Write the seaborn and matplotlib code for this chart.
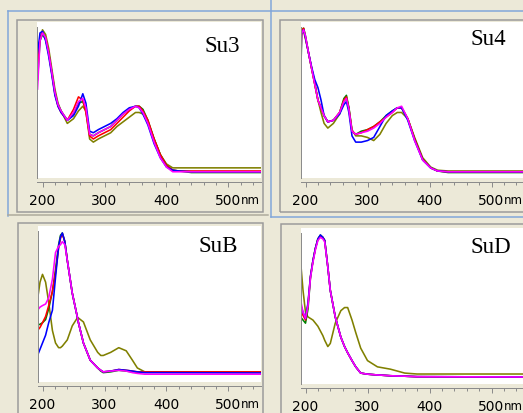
import numpy as np
import pandas as pd
import seaborn as sns
import matplotlib.pyplot as plt
import matplotlib.transforms as mtransforms
from matplotlib.patches import Rectangle
from matplotlib.lines import Line2D
from matplotlib.ticker import MultipleLocator

W, H = 523, 413
BG = "#ECE9D8"

# ---- data (relative absorbance) ----
wl_su3 = [192, 196, 200, 205, 210, 215, 220, 225, 230, 240, 250, 258, 265, 270, 276, 282,
          290, 300, 310, 320, 330, 340, 350, 356, 362, 370, 380, 390, 400, 410, 420, 440, 560]
su3_blue = [0.80, 0.93, 0.94, 0.88, 0.78, 0.66, 0.53, 0.46, 0.42, 0.37, 0.40, 0.46, 0.54, 0.48, 0.30, 0.29,
            0.31, 0.33, 0.35, 0.38, 0.42, 0.45, 0.46, 0.45, 0.41, 0.34, 0.22, 0.13, 0.07, 0.05, 0.045, 0.04, 0.04]
su3_red = [0.70, 0.90, 0.93, 0.90, 0.80, 0.67, 0.54, 0.46, 0.42, 0.37, 0.44, 0.52, 0.50, 0.42, 0.27, 0.25,
           0.27, 0.29, 0.31, 0.35, 0.39, 0.43, 0.46, 0.46, 0.43, 0.37, 0.25, 0.15, 0.08, 0.05, 0.045, 0.045, 0.045]
su3_green = [0.63, 0.88, 0.92, 0.89, 0.80, 0.68, 0.55, 0.47, 0.43, 0.37, 0.41, 0.48, 0.49, 0.44, 0.28, 0.27,
             0.29, 0.31, 0.33, 0.37, 0.41, 0.44, 0.46, 0.46, 0.44, 0.37, 0.25, 0.15, 0.08, 0.05, 0.045, 0.035, 0.035]
su3_magenta = [0.57, 0.88, 0.93, 0.90, 0.80, 0.68, 0.55, 0.47, 0.43, 0.37, 0.42, 0.49, 0.51, 0.45, 0.28, 0.27,
               0.29, 0.31, 0.33, 0.37, 0.41, 0.44, 0.46, 0.45, 0.42, 0.35, 0.23, 0.13, 0.07, 0.04, 0.04, 0.04, 0.04]
su3_olive = [0.72, 0.89, 0.95, 0.92, 0.83, 0.70, 0.57, 0.48, 0.43, 0.35, 0.38, 0.43, 0.46, 0.43, 0.25, 0.23,
             0.25, 0.27, 0.29, 0.33, 0.36, 0.39, 0.42, 0.42, 0.41, 0.36, 0.25, 0.15, 0.09, 0.065, 0.065, 0.065, 0.065]

wl_su4 = [192, 194, 197, 200, 205, 210, 215, 220, 225, 230, 236, 245, 255, 262, 266, 270, 275,
          281, 290, 300, 310, 320, 330, 340, 348, 355, 365, 376, 389, 402, 413, 430, 560]
su4_blue = [0.90, 0.93, 0.95, 0.90, 0.80, 0.71, 0.63, 0.58, 0.50, 0.40, 0.36, 0.37, 0.41, 0.47, 0.49, 0.42, 0.27,
            0.23, 0.23, 0.24, 0.26, 0.33, 0.40, 0.43, 0.45, 0.45, 0.37, 0.24, 0.115, 0.064, 0.045, 0.04, 0.04]
su4_red = [0.85, 0.94, 0.96, 0.90, 0.80, 0.70, 0.60, 0.50, 0.45, 0.40, 0.36, 0.37, 0.42, 0.50, 0.52, 0.44, 0.30,
           0.28, 0.29, 0.31, 0.33, 0.36, 0.39, 0.42, 0.45, 0.45, 0.38, 0.25, 0.12, 0.065, 0.045, 0.04, 0.04]
su4_green = [0.61, 0.92, 0.96, 0.91, 0.80, 0.70, 0.60, 0.50, 0.45, 0.40, 0.36, 0.37, 0.42, 0.51, 0.53, 0.45, 0.30,
             0.28, 0.30, 0.31, 0.33, 0.36, 0.40, 0.43, 0.45, 0.45, 0.38, 0.25, 0.12, 0.065, 0.045, 0.035, 0.035]
su4_magenta = [0.71, 0.93, 0.95, 0.91, 0.80, 0.70, 0.60, 0.50, 0.45, 0.40, 0.36, 0.37, 0.42, 0.49, 0.51, 0.44, 0.30,
               0.28, 0.29, 0.30, 0.32, 0.35, 0.39, 0.42, 0.45, 0.46, 0.38, 0.24, 0.115, 0.064, 0.045, 0.04, 0.04]
su4_olive = [0.88, 0.96, 0.94, 0.89, 0.80, 0.70, 0.61, 0.50, 0.42, 0.35, 0.32, 0.35, 0.41, 0.49, 0.51, 0.45, 0.31,
             0.27, 0.27, 0.26, 0.24, 0.28, 0.35, 0.40, 0.42, 0.42, 0.38, 0.26, 0.13, 0.07, 0.05, 0.045, 0.045]

wl_sub = [192, 196, 200, 205, 210, 216, 221, 226, 229, 232, 236, 240, 248, 256, 258, 266, 277,
          289, 294, 298, 310, 323, 335, 345, 353, 365, 380, 560]
sub_blue = [0.17, 0.21, 0.25, 0.30, 0.38, 0.46, 0.67, 0.87, 0.93, 0.955, 0.90, 0.78, 0.57, 0.42, 0.38, 0.25, 0.14,
            0.09, 0.075, 0.065, 0.07, 0.08, 0.075, 0.07, 0.065, 0.06, 0.06, 0.058]
sub_red = [0.33, 0.35, 0.38, 0.42, 0.49, 0.58, 0.70, 0.86, 0.92, 0.95, 0.90, 0.78, 0.57, 0.42, 0.38, 0.25, 0.14,
           0.09, 0.075, 0.065, 0.07, 0.08, 0.075, 0.07, 0.065, 0.065, 0.065, 0.065]
sub_green = [0.365, 0.37, 0.38, 0.40, 0.47, 0.58, 0.72, 0.88, 0.94, 0.955, 0.90, 0.78, 0.57, 0.42, 0.38, 0.25, 0.14,
             0.09, 0.07, 0.06, 0.065, 0.075, 0.07, 0.065, 0.062, 0.062, 0.062, 0.062]
sub_magenta = [0.46, 0.48, 0.49, 0.50, 0.54, 0.66, 0.83, 0.87, 0.88, 0.90, 0.88, 0.78, 0.57, 0.42, 0.38, 0.25, 0.14,
               0.09, 0.075, 0.065, 0.07, 0.075, 0.07, 0.06, 0.055, 0.05, 0.05, 0.05]
sub_olive = [0.53, 0.64, 0.69, 0.64, 0.51, 0.33, 0.25, 0.22, 0.22, 0.23, 0.25, 0.27, 0.36, 0.41, 0.41, 0.385, 0.27,
             0.19, 0.17, 0.17, 0.19, 0.22, 0.20, 0.14, 0.09, 0.065, 0.065, 0.065]

wl_sud = [192, 196, 200, 204, 208, 212, 216, 220, 224, 228, 231, 236, 240, 248, 257, 263, 268,
          275, 281, 289, 300, 316, 337, 360, 380, 560]
sud_blue = [0.51, 0.46, 0.42, 0.52, 0.69, 0.79, 0.87, 0.93, 0.955, 0.94, 0.92, 0.75, 0.60, 0.43, 0.30, 0.24, 0.20,
            0.15, 0.11, 0.07, 0.063, 0.058, 0.053, 0.05, 0.047, 0.045]
sud_red = [0.47, 0.44, 0.41, 0.51, 0.69, 0.79, 0.87, 0.93, 0.95, 0.94, 0.92, 0.75, 0.60, 0.43, 0.30, 0.24, 0.20,
           0.15, 0.11, 0.07, 0.063, 0.058, 0.053, 0.05, 0.047, 0.045]
sud_green = [0.43, 0.41, 0.39, 0.48, 0.68, 0.79, 0.87, 0.93, 0.955, 0.94, 0.92, 0.75, 0.60, 0.43, 0.30, 0.24, 0.20,
             0.15, 0.11, 0.07, 0.063, 0.058, 0.053, 0.05, 0.047, 0.045]
sud_magenta = [0.54, 0.46, 0.42, 0.50, 0.68, 0.78, 0.86, 0.92, 0.94, 0.93, 0.91, 0.75, 0.60, 0.43, 0.30, 0.24, 0.20,
               0.15, 0.11, 0.07, 0.063, 0.058, 0.053, 0.05, 0.047, 0.045]
sud_olive = [0.79, 0.60, 0.46, 0.43, 0.42, 0.41, 0.39, 0.37, 0.34, 0.31, 0.28, 0.24, 0.26, 0.39, 0.47, 0.49, 0.49,
             0.41, 0.33, 0.23, 0.15, 0.11, 0.095, 0.07, 0.064, 0.064]

series_order = ["olive", "green", "red", "blue", "magenta"]
palette = {"blue": "#0000FF", "red": "#FF0000", "green": "#008000",
           "magenta": "#FF00FF", "olive": "#808000"}

panels = [
    ("Su3", wl_su3, dict(blue=su3_blue, red=su3_red, green=su3_green, magenta=su3_magenta, olive=su3_olive),
     (37, 22, 261, 178), 42.5, (205, 52)),
    ("Su4", wl_su4, dict(blue=su4_blue, red=su4_red, green=su4_green, magenta=su4_magenta, olive=su4_olive),
     (301, 22, 527, 178), 305.5, (471, 45)),
    ("SuB", wl_sub, dict(blue=sub_blue, red=sub_red, green=sub_green, magenta=sub_magenta, olive=sub_olive),
     (38, 226, 261, 382), 42.5, (199, 252)),
    ("SuD", wl_sud, dict(blue=sud_blue, red=sud_red, green=sud_green, magenta=sud_magenta, olive=sud_olive),
     (301, 228, 527, 384), 305.5, (471, 253)),
]

PX_PER_NM = 0.62
PT = 72 / 100  # points per pixel

fig = plt.figure(figsize=(W / 100, H / 100), dpi=100, facecolor=BG)


def fx(x):
    return x / W


def fy(y):
    return 1 - y / H


def frame(x0, y0, x1, y1, color="#9A9A9A", lw=1.5):
    fig.add_artist(Rectangle((fx(x0), fy(y1)), fx(x1) - fx(x0), fy(y0) - fy(y1),
                             transform=fig.transFigure, fill=False, edgecolor=color, linewidth=lw * PT))


def hline(xs, ys, color, lw=1.5):
    fig.add_artist(Line2D([fx(x) for x in xs], [fy(y) for y in ys], transform=fig.transFigure,
                          color=color, linewidth=lw * PT))


# window chrome
blue_edge = "#7FA6DA"
hline([7.5, 7.5], [10.5, 216], blue_edge)
hline([7.5, 523], [10.5, 10.5], blue_edge)
hline([270.5, 270.5], [0, 217.5], blue_edge)
hline([270.5, 523], [217.5, 217.5], blue_edge)
hline([7.5, 268], [214.5, 214.5], "#ADAA9C")
frame(16.5, 19.5, 262.5, 212)
frame(279.5, 19.5, 530, 212)
frame(17.5, 222.5, 262.5, 420)
frame(280.5, 223.5, 530, 420)

for name, wl, curves, (x0, y0, x1, y1), c200, (tx, ty) in panels:
    ax = fig.add_axes([fx(x0), fy(y1), fx(x1) - fx(x0), fy(y0) - fy(y1)])
    ax.set_facecolor("white")
    rows = []
    for key in series_order:
        for w, v in zip(wl, curves[key]):
            rows.append((w, v, key))
    df = pd.DataFrame(rows, columns=["wl", "abs", "series"])
    sns.lineplot(data=df, x="wl", y="abs", hue="series", hue_order=series_order, palette=palette,
                 estimator=None, sort=False, legend=False, linewidth=1.15, ax=ax)

    ax.set_xlim(200 - (c200 - x0) / PX_PER_NM, 200 + (x1 - c200) / PX_PER_NM)
    ax.set_ylim(0, 1)
    ax.set_xlabel("")
    ax.set_ylabel("")
    ax.set_yticks([])
    ax.set_xticks([200, 300, 400, 500])
    ax.set_xticklabels(["200", "300", "400", "500"])
    ax.xaxis.set_minor_locator(MultipleLocator(20))
    ax.tick_params(axis="x", which="major", direction="out", length=5 * PT, width=1 * PT,
                   color="#8C8C8C", pad=6.5 * PT, labelsize=10, labelcolor="black")
    ax.tick_params(axis="x", which="minor", direction="out", length=3 * PT, width=1 * PT, color="#8C8C8C")
    for s in ("top", "right"):
        ax.spines[s].set_visible(False)
    ax.spines["bottom"].set_position(("outward", 3))
    ax.spines["bottom"].set_color("#8C8C8C")
    ax.spines["bottom"].set_linewidth(1 * PT)
    ax.spines["left"].set_color("#8C8C8C")
    ax.spines["left"].set_linewidth(1 * PT)
    ax.spines["left"].set_bounds(0, 0.97)

    trans = mtransforms.blended_transform_factory(ax.transData, ax.transAxes)
    ax.text(520.5, -25.5 / 156, "nm", transform=trans, ha="left", va="baseline",
            fontsize=8.5, color="black", clip_on=False)

    fig.text(fx(tx), fy(ty), name, ha="left", va="baseline",
             family=["Liberation Serif", "DejaVu Serif"], fontsize=16.5, color="black")

fig.savefig("out.png", dpi=100, facecolor=BG)
